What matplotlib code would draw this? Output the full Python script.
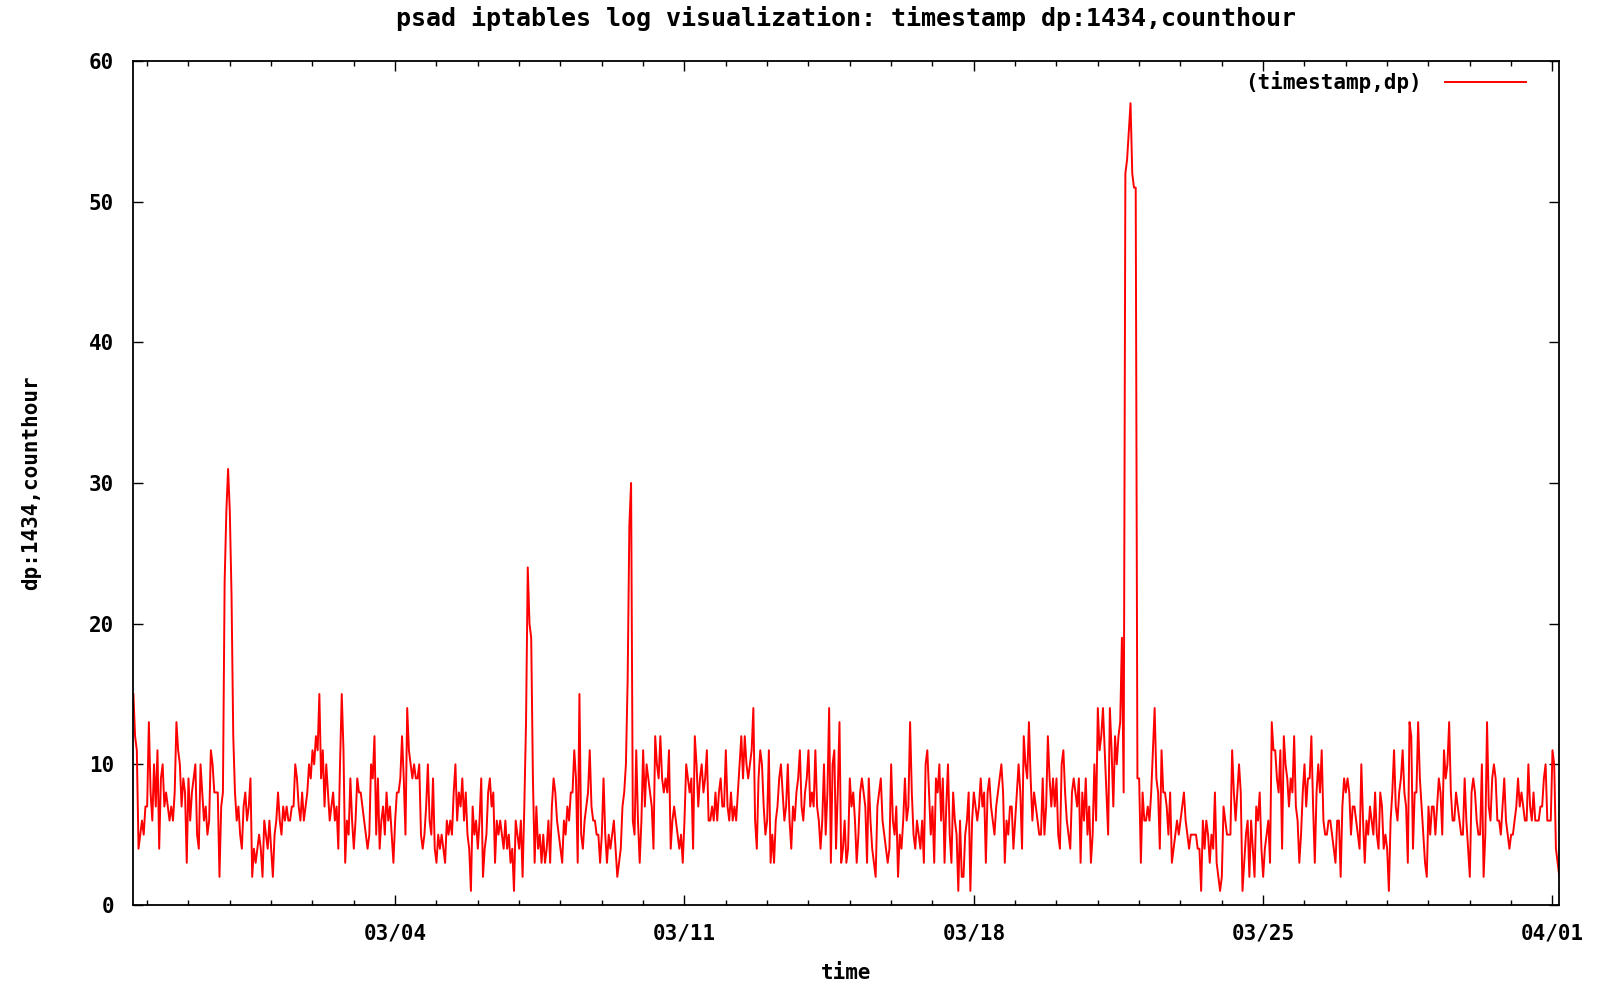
import pandas as pd
import matplotlib
matplotlib.use('Agg')
import matplotlib.pyplot as plt
import matplotlib.dates as mdates
from matplotlib.ticker import MultipleLocator

# hourly hit counts on dp:1434, split by week (first list starts 02/26 16:00)
wk_0226 = [15, 12, 11, 4, 5, 6, 5, 7, 7, 13, 8, 6, 10, 7, 11, 4, 9, 10, 7, 8,
           7, 6, 7, 6, 8, 13, 11, 10, 7, 9, 8, 3, 9, 6, 8, 9, 10, 5, 4, 10,
           8, 6, 7, 5, 6, 11, 10, 8, 8, 8, 2, 7, 8, 23, 28, 31, 28, 22, 12, 8,
           6, 7, 5, 4, 7, 8, 6, 7,
           9, 2, 4, 3, 4, 5, 4, 2, 6, 5, 4, 6, 4, 2, 5, 6, 8, 6, 5, 7,
           6, 7, 6, 6, 7, 7, 10, 9, 7, 6, 8, 6, 7, 8, 10, 9, 11, 10, 12, 11,
           15, 9, 11, 7, 10, 8, 6, 7, 8, 6, 7, 4, 10, 15, 11, 3, 6, 5, 9, 6,
           4, 6, 9, 8, 8, 7, 6, 5, 4,
           5, 10, 9, 12, 5, 9, 4, 6, 7, 5, 8, 6, 7, 5, 3]
wk_0304 = [6, 8, 8, 9, 12, 9, 5, 14, 11, 10, 9, 10, 9, 9, 10, 5, 4, 5, 7, 10,
           6, 5, 9, 4, 3, 5, 4, 5, 4, 3, 6, 5, 6, 5, 8, 10, 6, 8, 7, 9,
           6, 8, 5, 4, 1, 7, 5, 6, 4, 6, 9, 2, 4,
           5, 8, 9, 7, 8, 3, 6, 5, 6, 5, 4, 6, 4, 5, 3, 4, 1, 6, 5, 4,
           6, 2, 7, 13, 24, 20, 19, 9, 3, 7, 4, 5, 3, 5, 3, 4, 6, 3, 7, 9,
           8, 6, 5, 4, 3, 6, 5, 7, 6, 8, 8, 11, 9, 3, 15, 5, 4, 6, 7, 8,
           11, 7, 6, 6, 5, 5, 3, 5, 9,
           5, 3, 5, 4, 5, 6, 4, 2, 3, 4, 7, 8, 10, 16, 27, 30, 6, 5, 11, 6,
           3, 6, 11, 7, 10, 9, 8, 7, 4, 12, 10, 9, 12, 9, 8, 9, 8, 11, 4, 6,
           7, 6, 5, 4, 5, 3]
wk_0311 = [6, 10, 9, 8, 9, 4, 12, 10, 7, 9, 10, 8, 9, 11, 6, 6, 7, 6, 8, 6,
           8, 9, 7,
           7, 11, 7, 6, 8, 6, 7, 6, 8, 10, 12, 9, 12, 10, 9, 10, 11, 14, 6, 4,
           9, 11, 10, 7, 5, 6, 11, 3, 5, 3, 6, 7, 9, 10, 8, 6, 7, 10, 6, 4,
           7, 6, 8, 9, 11, 7, 6, 8, 9, 11, 7, 8, 7, 11, 7, 6, 4, 6, 10, 5,
           8, 14, 3, 10, 11, 4, 8, 13, 3,
           4, 6, 3, 4, 9, 7, 8, 6, 3, 5, 8, 9, 8, 7, 3, 9, 6, 4, 3, 2,
           7, 8, 9, 6, 5, 4, 3, 4, 10, 6, 5, 7, 2, 5, 4, 6, 9, 6, 7, 13,
           8, 5, 4, 6, 5, 4, 6, 3, 10, 11, 8, 5, 7, 3, 9, 8, 10, 6, 9, 3,
           7, 10, 5, 3, 8, 6, 5, 1, 6,
           2, 2, 5, 6, 8, 1, 6]
wk_0318 = [8, 7, 6, 7, 9, 7, 8, 3, 8, 9, 7, 6, 5, 7, 8, 9, 10, 8, 3, 6,
           5, 7, 7, 4, 6, 8, 10, 8, 4, 12, 10, 9, 13, 9, 6, 8, 7, 6, 5, 5,
           9, 5, 7, 12, 9, 7, 9, 7, 9, 5, 4, 10, 11, 8, 6, 5, 4, 8, 9, 8,
           7, 9,
           3, 8, 6, 9, 5, 7, 3, 5, 10, 6, 14, 11, 12, 14, 11, 8, 5, 14, 11, 7,
           12, 10, 12, 13, 19, 8, 52, 53, 55, 57, 52, 51, 51, 9, 9, 3, 8, 6, 6, 7,
           6, 8, 11, 14, 9, 8, 4, 11, 8, 8, 7, 5, 8, 3, 4, 5, 6, 5, 6, 7,
           8, 6, 5, 4, 5, 5, 5, 5, 4,
           4, 1, 6, 4, 6, 5, 3, 5, 4, 8, 3, 2, 1, 2, 7, 6, 5, 5, 5, 11,
           8, 6, 8, 10, 8, 1, 3, 5, 6, 2, 6, 4, 2, 7, 6, 8, 4]
wk_0325 = [2, 4, 5, 6, 3, 13, 11, 11, 9, 8, 11, 4, 12, 10, 9, 7, 9, 8, 12, 7,
           6, 3, 5, 8, 10, 7, 9, 9, 12, 7,
           3, 8, 10, 8, 11, 6, 5, 5, 6, 6, 5, 4, 3, 6, 6, 2, 7, 9, 8, 9,
           8, 5, 7, 7, 6, 5, 4, 10, 6, 3, 6, 5, 7, 6, 5, 8, 5, 4, 8, 7,
           4, 5, 4, 1, 6, 8, 11, 7, 6, 8, 9, 11, 8, 7, 3, 13, 12, 4, 8, 8,
           13, 9, 7, 5, 3, 2, 7, 5, 7,
           7, 5, 7, 9, 8, 5, 11, 9, 10, 13, 8, 6, 6, 8, 7, 6, 5, 5, 9, 6,
           4, 2, 8, 9, 8, 6, 5, 5, 10, 2, 5, 13, 7, 6, 9, 10, 9, 6, 6, 5,
           7, 9, 6, 5, 4, 5, 5, 6, 7, 9, 7, 8, 7, 6, 6, 10, 7, 6, 8, 6,
           6, 6, 7, 7, 9, 10, 6, 6, 6]
wk_0401 = [11, 10, 4, 3, 2]

start_time = '2008-02-26 16:00'
title = 'psad iptables log visualization: timestamp dp:1434,counthour'

counts = wk_0226 + wk_0304 + wk_0311 + wk_0318 + wk_0325 + wk_0401
times = pd.date_range(start_time, periods=len(counts), freq='h')

plt.rcParams['font.family'] = ['DejaVu Sans Mono']
plt.rcParams['font.weight'] = 'bold'

fig = plt.figure(figsize=(16.01, 9.84), dpi=100)
ax = fig.add_axes([0.0833, 0.0803, 0.8907, 0.8577])

ax.plot(times, counts, color='#ff0000', lw=1.4, label='(timestamp,dp)')

ax.set_xlim(times[0], times[-1])
ax.set_ylim(0, 60)
ax.yaxis.set_major_locator(MultipleLocator(10))
ax.xaxis.set_major_locator(mdates.WeekdayLocator(byweekday=mdates.TU))
ax.xaxis.set_minor_locator(mdates.DayLocator())
ax.xaxis.set_major_formatter(mdates.DateFormatter('%m/%d'))

ax.tick_params(which='both', direction='in', top=True, right=True, width=1.0)
ax.tick_params(which='major', length=7, labelsize=15)
ax.tick_params(which='minor', length=3.5)
ax.tick_params(axis='x', pad=13)
ax.tick_params(axis='y', pad=14)
for s in ax.spines.values():
    s.set_linewidth(1.3)

ax.set_title(title, fontsize=18, fontweight='bold', y=1.0505, va='center', pad=0)
ax.set_xlabel('time', fontsize=15, fontweight='bold', va='center')
ax.xaxis.set_label_coords(0.5, -0.0806)
ax.set_ylabel('dp:1434,counthour', fontsize=15, fontweight='bold', va='center')
ax.yaxis.set_label_coords(-0.0717, 0.5)

ax.legend(loc='upper right', bbox_to_anchor=(0.9766, 0.988), frameon=False,
          markerfirst=False, fontsize=15, handlelength=3.9, handletextpad=1.1,
          borderaxespad=0, borderpad=0)

fig.savefig('out.png', dpi=100)
